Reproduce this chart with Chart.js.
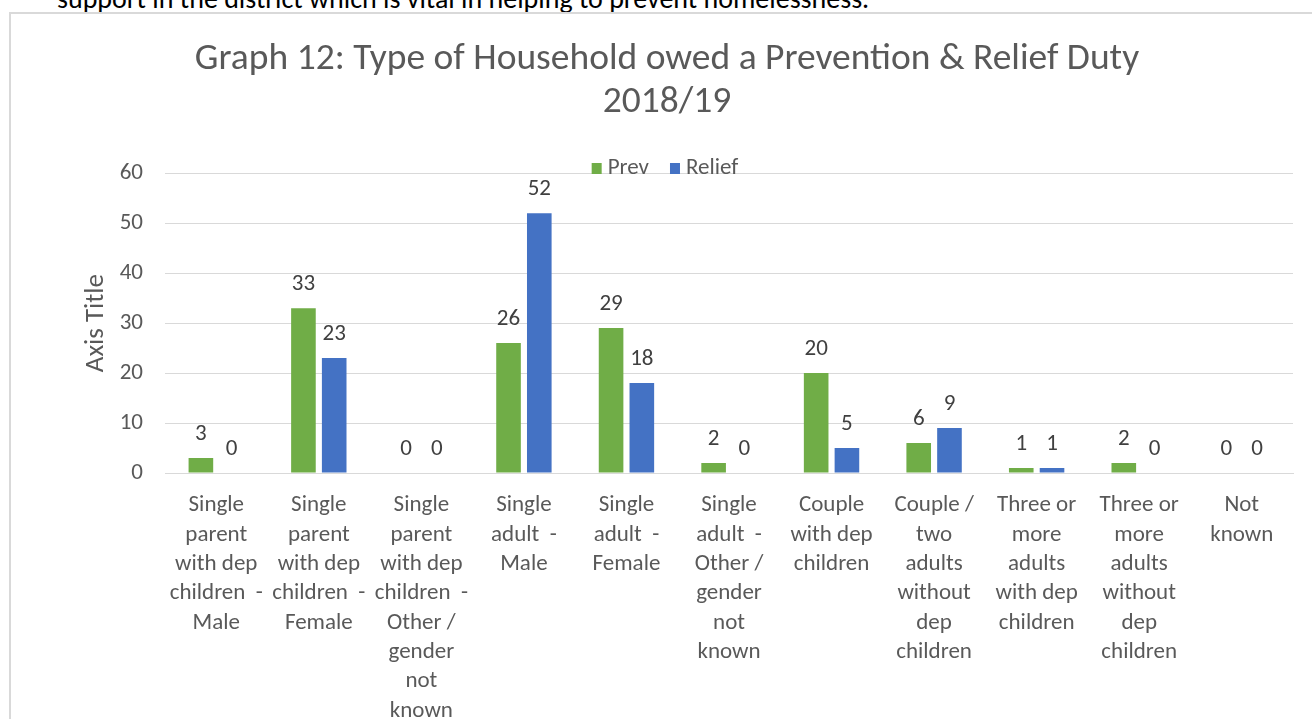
<!DOCTYPE html>
<html>
<head>
<meta charset="utf-8">
<script src="https://cdn.jsdelivr.net/npm/chart.js@4.4.1/dist/chart.umd.min.js"></script>
<style>
	html, body { margin: 0; padding: 0; background: #fff; overflow: hidden; width: 1312px; height: 719px; }
	#lead { position: absolute; left: 57px; top: -15px; font: 28px/28px Carlito, Lato, sans-serif; color: #000; white-space: nowrap; }
	#frame { position: absolute; left: 9px; top: 12px; border: 2px solid #d9d9d9; width: 1312px; height: 720px; }
	#frame canvas { display: block; }
</style>
</head>
<body>
<div id="lead">support in the district which is vital in helping to prevent homelessness.</div>
<div id="frame"><canvas id="householdChart" width="1312" height="720"></canvas></div>
<script>
var categories = [
	["Single", "parent", "with dep", "children  -", "Male"],
	["Single", "parent", "with dep", "children  -", "Female"],
	["Single", "parent", "with dep", "children  -", "Other /", "gender", "not", "known"],
	["Single", "adult  -", "Male"],
	["Single", "adult  -", "Female"],
	["Single", "adult  -", "Other /", "gender", "not", "known"],
	["Couple", "with dep", "children"],
	["Couple /", "two", "adults", "without", "dep", "children"],
	["Three or", "more", "adults", "with dep", "children"],
	["Three or", "more", "adults", "without", "dep", "children"],
	["Not", "known"]
];
var prevValues = [3, 33, 0, 26, 29, 2, 20, 6, 1, 2, 0];
var reliefValues = [0, 23, 0, 52, 18, 0, 5, 9, 1, 0, 0];
var seriesNames = ["Prev", "Relief"];
var seriesColors = ["#70ad47", "#4472c4"];

var fontFamily = "Carlito, Lato, sans-serif";

// values printed above each bar
var barValues = {
	id: "barValues",
	afterDatasetsDraw: function (chart) {
		var ctx = chart.ctx;
		ctx.save();
		ctx.font = "23px " + fontFamily;
		ctx.fillStyle = "#404040";
		ctx.textAlign = "center";
		ctx.textBaseline = "middle";
		chart.data.datasets.forEach(function (ds, i) {
			chart.getDatasetMeta(i).data.forEach(function (bar, j) {
				ctx.fillText(ds.data[j], bar.x, bar.y - 24);
			});
		});
		ctx.restore();
	}
};

// legend sits just above the top gridline
var topLegend = {
	id: "topLegend",
	afterDraw: function (chart) {
		var ctx = chart.ctx;
		ctx.save();
		ctx.font = "23px " + fontFamily;
		ctx.textBaseline = "middle";
		var box = 10, gap = 6, spacing = 21;
		var widths = chart.data.datasets.map(function (ds) {
			return box + gap + ctx.measureText(ds.label).width;
		});
		var total = widths.reduce(function (a, b) { return a + b; }, 0) + spacing * (widths.length - 1);
		var x = chart.width / 2 - total / 2 - 2;
		var y = 154;
		chart.data.datasets.forEach(function (ds, i) {
			ctx.fillStyle = ds.backgroundColor;
			ctx.fillRect(x, y - 5, box, 11);
			ctx.fillStyle = "#595959";
			ctx.fillText(ds.label, x + box + gap, y);
			x += widths[i] + spacing;
		});
		ctx.restore();
	}
};

var chart = new Chart(document.getElementById("householdChart"), {
	type: "bar",
	data: {
		labels: categories,
		datasets: [
			{ label: seriesNames[0], data: prevValues, backgroundColor: seriesColors[0] },
			{ label: seriesNames[1], data: reliefValues, backgroundColor: seriesColors[1] }
		]
	},
	options: {
		responsive: false,
		animation: false,
		categoryPercentage: 0.6,
		barPercentage: 0.8,
		layout: { padding: { left: 30, right: 30, top: 0, bottom: 0 } },
		plugins: {
			legend: { display: false },
			tooltip: { enabled: false },
			title: {
				display: true,
				text: ["Graph 12: Type of Household owed a Prevention & Relief Duty", "2018/19"],
				color: "#595959",
				font: { family: fontFamily, size: 37.5, weight: "normal", lineHeight: 1.15 },
				padding: { top: 24, bottom: 49 }
			}
		},
		scales: {
			x: {
				grid: { display: true, drawOnChartArea: false, drawTicks: false },
				border: { display: true, color: "#d9d9d9", width: 1 },
				ticks: {
					color: "#595959",
					font: { family: fontFamily, size: 23, lineHeight: 1.274 },
					padding: 18,
					maxRotation: 0,
					autoSkip: false
				},
				afterFit: function (scale) { scale.height = 261; }
			},
			y: {
				min: 0,
				max: 60,
				ticks: {
					stepSize: 10,
					color: "#595959",
					font: { family: fontFamily, size: 23 },
					padding: 22
				},
				grid: { color: "#d9d9d9", lineWidth: 1, drawTicks: false },
				border: { display: false },
				title: {
					display: true,
					text: "Axis Title",
					color: "#595959",
					font: { family: fontFamily, size: 27, weight: "normal", lineHeight: 1.2 },
					padding: { top: 39, bottom: 0 }
				},
				afterFit: function (scale) { scale.width = 124; }
			}
		}
	},
	plugins: [barValues, topLegend]
});
</script>
</body>
</html>
